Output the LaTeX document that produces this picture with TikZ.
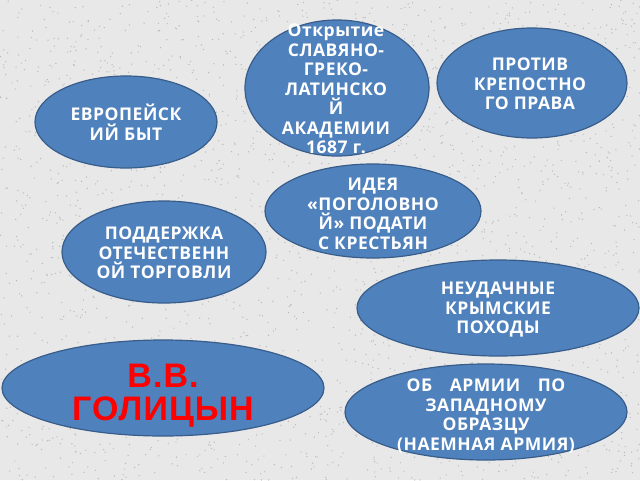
\documentclass[tikz,border=0pt]{standalone}
\usepackage{fontspec}
\setmainfont{Open Sans}[LetterSpace=3]
\newfontfamily\namefont{Liberation Sans}[LetterSpace=3]
\usetikzlibrary{shapes.geometric}

\definecolor{ovalblue}{RGB}{79,129,189}
\definecolor{ovalline}{RGB}{56,93,138}
\definecolor{stone}{RGB}{232,232,232}
\definecolor{speck}{RGB}{185,185,185}

\tikzset{
  oval/.style={ellipse, fill=ovalblue, draw=ovalline, line width=1.2pt, inner sep=0pt},
  ovaltext/.style={text=white, align=center, inner sep=0pt,
    font=\fontsize{17.5}{19.5}\selectfont\bfseries},
  nametext/.style={text=red, align=center, inner sep=0pt,
    font=\namefont\fontsize{34}{33}\selectfont\bfseries},
}

\begin{document}
\begin{tikzpicture}[x=1pt, y=-1pt]

                % granite background
                \useasboundingbox (0,0) rectangle (640,480);
                \fill[stone] (0,0) rectangle (640,480);
                \pgfmathsetseed{17}
                \foreach \i in {1,...,2600}
                    \fill[speck] (rnd*640, rnd*480) circle (0.7);

                % ovals
                \node[oval, minimum width=184pt, minimum height=136pt] (akad)  at (337,88)  {};
                \node[oval, minimum width=190pt, minimum height=110pt] (krep)  at (532,83)  {};
                \node[oval, minimum width=182pt, minimum height=92pt]  (evro)  at (126,122) {};
                \node[oval, minimum width=216pt, minimum height=94pt]  (ideya) at (373,211) {};
                \node[oval, minimum width=204pt, minimum height=102pt] (torg)  at (164,252) {};
                \node[oval, minimum width=282pt, minimum height=96pt]  (krym)  at (498,308) {};
                \node[oval, minimum width=322pt, minimum height=96pt]  (golic) at (163,388) {};
                \node[oval, minimum width=282pt, minimum height=96pt]  (army)  at (486,412) {};

                % texts
                \node[ovaltext] (akadtxt) at ([xshift=-1pt,yshift=-1pt]akad) {Открытие\\СЛАВЯНО-\\ГРЕКО-\\ЛАТИНСКО\\Й\\АКАДЕМИИ\\1687 г.};
                \node[ovaltext] (kreptxt) at ([xshift=-2pt,yshift=-1pt]krep) {ПРОТИВ\\КРЕПОСТНО\\ГО ПРАВА};
                \node[ovaltext] (evrotxt) at (evro) {ЕВРОПЕЙСК\\ИЙ БЫТ};
                \node[ovaltext] (ideyatxt) at ([yshift=-3pt]ideya) {ИДЕЯ\\«ПОГОЛОВНО\\Й» ПОДАТИ\\С КРЕСТЬЯН};
                \node[ovaltext] (torgtxt) at ([yshift=-1pt]torg) {ПОДДЕРЖКА\\ОТЕЧЕСТВЕНН\\ОЙ ТОРГОВЛИ};
                \node[ovaltext] (krymtxt) at ([yshift=-2pt]krym) {НЕУДАЧНЫЕ\\КРЫМСКИЕ\\ПОХОДЫ};
                \node[ovaltext] (armytxt) at ([yshift=-4pt]army) {ОБ\quad АРМИИ\quad ПО\\ЗАПАДНОМУ\\ОБРАЗЦУ\\(НАЕМНАЯ АРМИЯ)};
                \node[nametext] (golictxt) at ([yshift=-8pt]golic) {В.В.\\ГОЛИЦЫН};
            \end{tikzpicture}
\end{document}
